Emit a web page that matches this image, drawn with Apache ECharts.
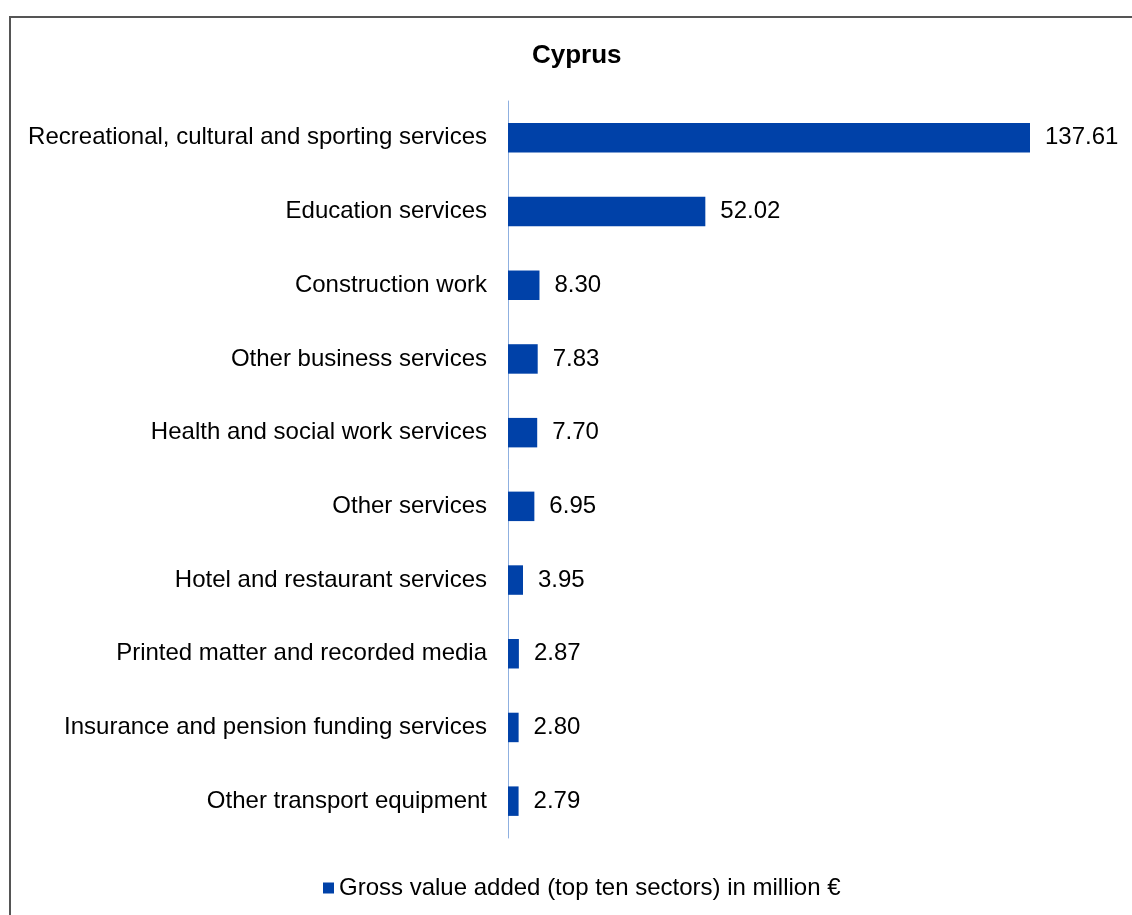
<!DOCTYPE html>
<html>
<head>
<meta charset="utf-8">
<style>
  html, body { margin: 0; padding: 0; background: #fff; }
  #chart { width: 1132px; height: 915px; }
</style>
<script src="https://cdn.jsdelivr.net/npm/echarts@6/dist/echarts.min.js"></script>
</head>
<body>
<div id="chart"></div>
<script>
// Top ten sectors by gross value added, Cyprus (million €)
const sectors = [
  'Recreational, cultural and sporting services',
  'Education services',
  'Construction work',
  'Other business services',
  'Health and social work services',
  'Other services',
  'Hotel and restaurant services',
  'Printed matter and recorded media',
  'Insurance and pension funding services',
  'Other transport equipment'
];
const gva = [137.61, 52.02, 8.30, 7.83, 7.70, 6.95, 3.95, 2.87, 2.80, 2.79];
const seriesName = 'Gross value added (top ten sectors) in million €';
const chartTitle = 'Cyprus';

const font = 'Liberation Sans, Arial, sans-serif';
const barColor = '#0041A8';

const chart = echarts.init(document.getElementById('chart'), null, { renderer: 'canvas' });
chart.setOption({
  backgroundColor: '#fff',
  animation: false,
  title: {
    text: chartTitle,
    left: 527,
    top: 38,
    textStyle: { fontFamily: font, fontSize: 26, fontWeight: 'bold', color: '#000' }
  },
  graphic: [{
    type: 'rect',
    shape: { x: 10, y: 17, width: 1200, height: 1000 },
    style: { fill: 'none', stroke: '#555', lineWidth: 2 },
    silent: true
  }],
  legend: {
    data: [seriesName],
    bottom: 10,
    left: 318,
    icon: 'rect',
    itemWidth: 11,
    itemHeight: 11,
    itemGap: 7,
    textStyle: { fontFamily: font, fontSize: 24, color: '#000' }
  },
  grid: { left: 508, right: 102, top: 101, bottom: 77, containLabel: false },
  xAxis: {
    type: 'value',
    min: 0,
    max: Math.max(...gva),
    show: false
  },
  yAxis: {
    type: 'category',
    data: sectors,
    inverse: true,
    axisLine: { show: true, lineStyle: { color: '#8FB0E0', width: 1 } },
    axisTick: { show: false },
    axisLabel: { margin: 21, fontFamily: font, fontSize: 24, color: '#000' }
  },
  series: [{
    name: seriesName,
    type: 'bar',
    data: gva,
    barWidth: '40%',
    itemStyle: { color: barColor },
    label: {
      show: true,
      position: 'right',
      distance: 15,
      formatter: p => p.value.toFixed(2),
      fontFamily: font,
      fontSize: 24,
      color: '#000'
    }
  }]
});
</script>
</body>
</html>
